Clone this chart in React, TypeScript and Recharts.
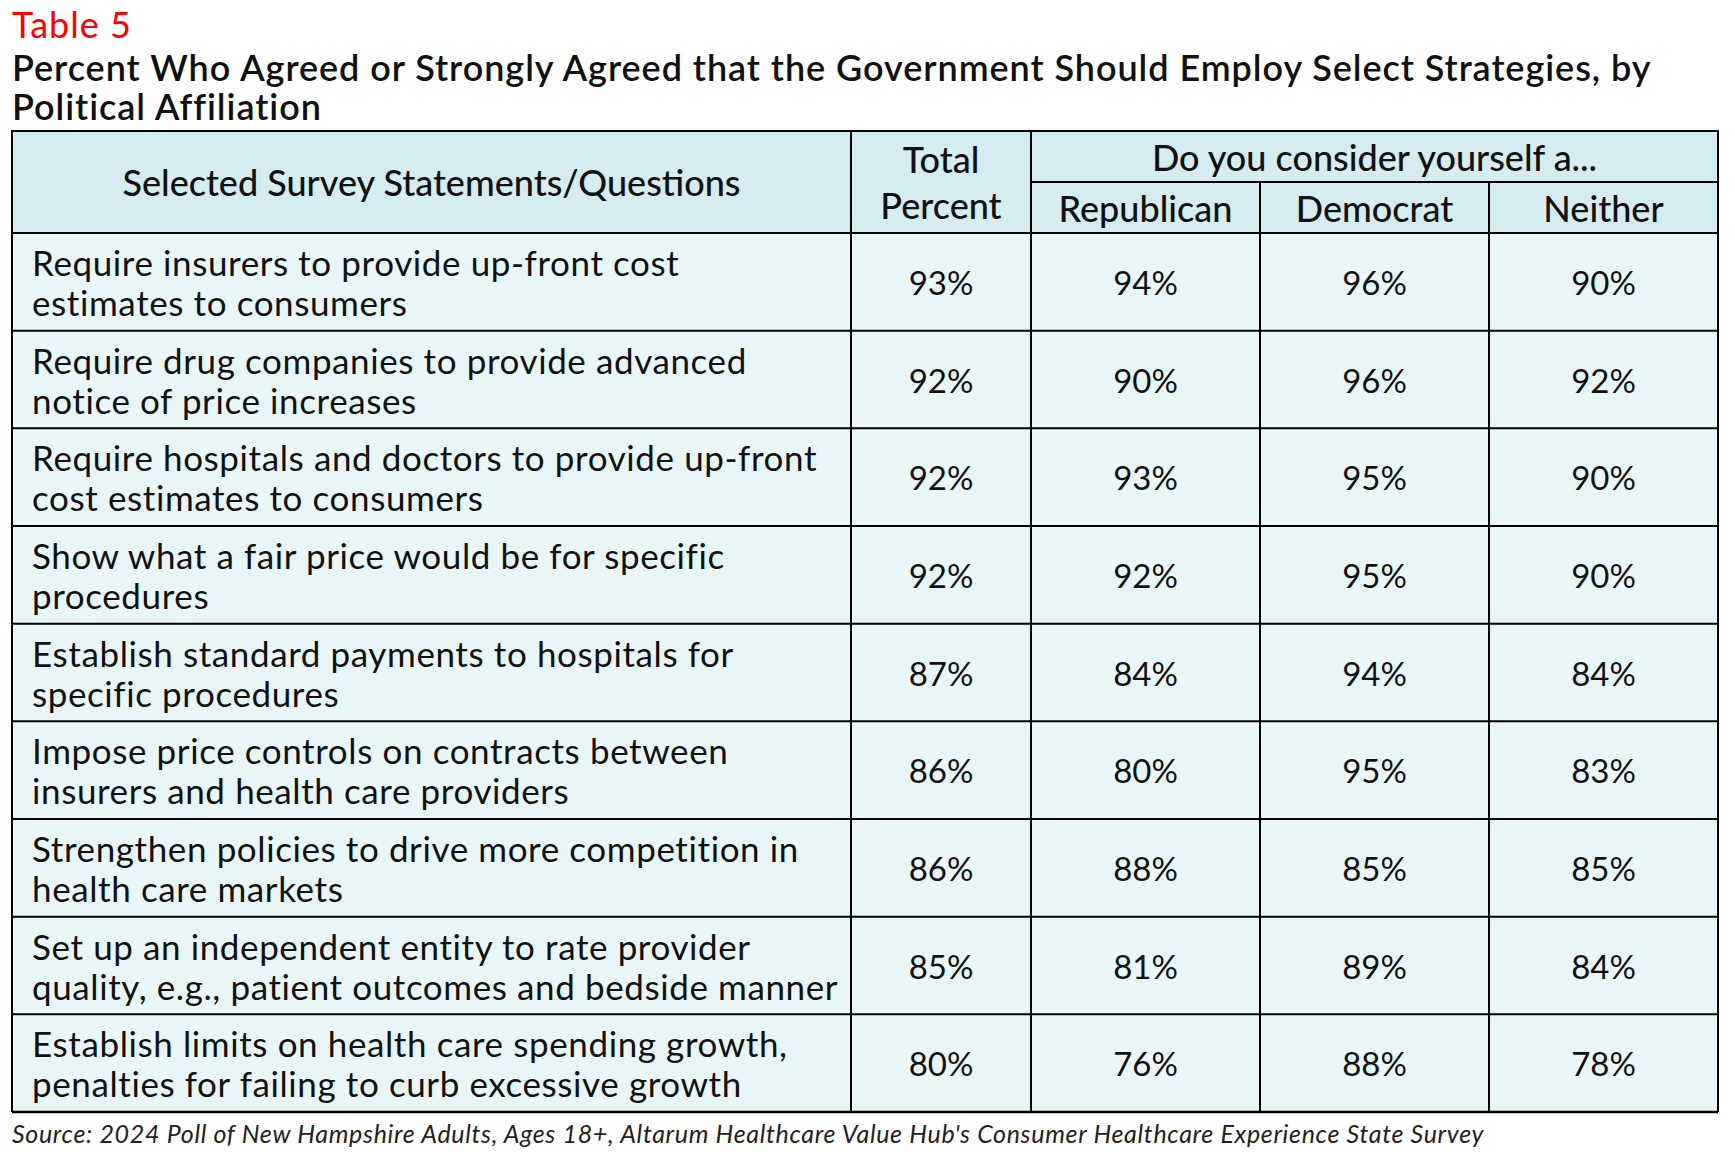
import React from 'react';
import { ComposedChart, XAxis, YAxis, Scatter, ReferenceLine, CartesianGrid } from 'recharts';

// ---------- data ----------
const statementLines: string[][] = [
  ['Require insurers to provide up-front cost', 'estimates to consumers'],
  ['Require drug companies to provide advanced', 'notice of price increases'],
  ['Require hospitals and doctors to provide up-front', 'cost estimates to consumers'],
  ['Show what a fair price would be for specific', 'procedures'],
  ['Establish standard payments to hospitals for', 'specific procedures'],
  ['Impose price controls on contracts between', 'insurers and health care providers'],
  ['Strengthen policies to drive more competition in', 'health care markets'],
  ['Set up an independent entity to rate provider', 'quality, e.g., patient outcomes and bedside manner'],
  ['Establish limits on health care spending growth,', 'penalties for failing to curb excessive growth'],
];
const statements = statementLines.map((l) => l.join(' '));

const totalPct = [93, 92, 92, 92, 87, 86, 86, 85, 80];
const republicanPct = [94, 90, 93, 92, 84, 80, 88, 81, 76];
const democratPct = [96, 96, 95, 95, 94, 95, 85, 89, 88];
const neitherPct = [90, 92, 90, 90, 84, 83, 85, 84, 78];

const columnLabels = ['Selected Survey Statements/Questions', 'Total Percent', 'Republican', 'Democrat', 'Neither'];
const groupLabel = 'Do you consider yourself a...';
const tableLabel = 'Table 5';
const titleLines = [
  'Percent Who Agreed or Strongly Agreed that the Government Should Employ Select Strategies, by',
  'Political Affiliation',
];
const sourceText =
  "Source: 2024 Poll of New Hampshire Adults, Ages 18+, Altarum Healthcare Value Hub's Consumer Healthcare Experience State Survey";

// ---------- layout ----------
const W = 1735;
const H = 1152;
const TABLE_LEFT = 12;
const TABLE_TOP = 131;
const HEADER_H = 102;
const HEADER_SPLIT = 51;
const TABLE_BOTTOM = 1112;
const PLOT_W = 1706;
const TEXT_INSET = 20;
const COL_EDGES = [0, 839, 1019, 1248, 1477, 1706];
const COL_CENTERS = COL_EDGES.slice(0, -1).map((e, i) => (e + COL_EDGES[i + 1]) / 2);

const FONT = 'Lato, "Noto Sans", sans-serif';
const INK = '#111111';
const HEADER_BG = '#d5edf1';
const BODY_BG = '#e9f6f8';
const BORDER = '#000000';
const FS = 33;
const SFS = 35;
const HFS = 36;

const valueSeries = [totalPct, republicanPct, democratPct, neitherPct];
const rows = statements.map((s) => ({ statement: s }));
const statementData = statements.map((s, i) => ({ statement: s, col: TEXT_INSET, lines: statementLines[i] }));
const seriesData = valueSeries.map((vals, k) =>
  statements.map((s, i) => ({ statement: s, col: COL_CENTERS[k + 1], value: vals[i] }))
);

const HeaderTick = (props: any) => {
  const { x, index } = props;
  const left = x - (COL_CENTERS[index] - COL_EDGES[index]);
  const right = x + (COL_EDGES[index + 1] - COL_CENTERS[index]);
  const top = TABLE_TOP;
  const bottom = TABLE_TOP + HEADER_H;
  const mid = TABLE_TOP + HEADER_SPLIT;
  const txt = { fontFamily: FONT, fontSize: HFS, fontWeight: 500, fill: INK, stroke: 'none' } as any;
  if (index === 0) {
    return (
      <g>
        <rect x={left} y={top} width={right - left} height={bottom - top} fill={HEADER_BG} stroke={BORDER} strokeWidth={2} />
        <text x={x} y={(top + bottom) / 2} textAnchor="middle" dominantBaseline="central" {...txt}>
          {columnLabels[0]}
        </text>
      </g>
    );
  }
  if (index === 1) {
    const parts = columnLabels[1].split(' ');
    return (
      <g>
        <rect x={left} y={top} width={right - left} height={bottom - top} fill={HEADER_BG} stroke={BORDER} strokeWidth={2} />
        {parts.map((p, k) => (
          <text key={k} x={x} y={(top + bottom) / 2 + (k - 0.5) * 46} textAnchor="middle" dominantBaseline="central" {...txt}>
            {p}
          </text>
        ))}
      </g>
    );
  }
  const groupLeft = x - (COL_CENTERS[index] - COL_EDGES[2]);
  const groupRight = groupLeft + (COL_EDGES[5] - COL_EDGES[2]);
  return (
    <g>
      {index === 2 && (
        <g>
          <rect x={groupLeft} y={top} width={groupRight - groupLeft} height={mid - top} fill={HEADER_BG} stroke={BORDER} strokeWidth={2} />
          <text x={(groupLeft + groupRight) / 2} y={(top + mid) / 2} textAnchor="middle" dominantBaseline="central" {...txt}>
            {groupLabel}
          </text>
        </g>
      )}
      <rect x={left} y={mid} width={right - left} height={bottom - mid} fill={HEADER_BG} stroke={BORDER} strokeWidth={2} />
      <text x={x} y={(mid + bottom) / 2} textAnchor="middle" dominantBaseline="central" {...txt}>
        {columnLabels[index]}
      </text>
    </g>
  );
};

const StatementShape = (props: any) => {
  const { cx, cy, payload } = props;
  const lines: string[] = payload.lines || [payload.statement];
  return (
    <g>
      {lines.map((l, k) => (
        <text
          key={k}
          x={cx}
          y={cy + (k - 0.5) * 40}
          textAnchor="start"
          dominantBaseline="central"
          fontFamily={FONT}
          fontSize={SFS}
          letterSpacing={0.6}
          fill={INK}
          stroke="none"
        >
          {l}
        </text>
      ))}
    </g>
  );
};

const ValueShape = (props: any) => {
  const { cx, cy, payload } = props;
  return (
    <text x={cx} y={cy} textAnchor="middle" dominantBaseline="central" fontFamily={FONT} fontSize={FS} fill={INK} stroke="none">
      {payload.value}%
    </text>
  );
};

const titleStyle: React.CSSProperties = {
  position: 'absolute',
  left: 12,
  lineHeight: '36px',
  fontSize: 36,
  fontWeight: 600,
  letterSpacing: 0.95,
  color: INK,
  whiteSpace: 'nowrap',
};

export default function App() {
  return (
    <div style={{ position: 'absolute', left: 0, top: 0, width: W, height: H, background: '#ffffff', fontFamily: FONT }}>
      <div style={{ position: 'absolute', left: 12, top: 4, lineHeight: '40px', fontSize: 36, letterSpacing: 1, color: '#fe0000', whiteSpace: 'nowrap' }}>
        {tableLabel}
      </div>
      <div style={{ ...titleStyle, top: 49 }}>{titleLines[0]}</div>
      <div style={{ ...titleStyle, top: 88 }}>{titleLines[1]}</div>
      <div style={{ position: 'absolute', left: 12, top: 1118, lineHeight: '30px', fontSize: 25, letterSpacing: 0.67, fontStyle: 'italic', color: '#222', whiteSpace: 'nowrap' }}>
        {sourceText}
      </div>
      <div style={{ position: 'absolute', left: 0, top: 0 }}>
        <ComposedChart
          width={W}
          height={H}
          layout="vertical"
          data={rows}
          margin={{ top: TABLE_TOP, right: W - TABLE_LEFT - PLOT_W, bottom: H - TABLE_BOTTOM, left: TABLE_LEFT - 1 }}
        >
          <CartesianGrid fill={BODY_BG} fillOpacity={1} horizontal={false} vertical={false} stroke="none" />
          <XAxis
            type="number"
            dataKey="col"
            domain={[0, PLOT_W]}
            allowDataOverflow
            orientation="top"
            height={HEADER_H}
            ticks={COL_CENTERS}
            interval={0}
            axisLine={false}
            tickLine={false}
            tick={<HeaderTick />}
          />
          <YAxis
            type="category"
            dataKey="statement"
            scale="band"
            width={1}
            axisLine={false}
            tickLine={false}
            tick={false}
            allowDuplicatedCategory={false}
          />
          {statements.map((s, i) => (
            <ReferenceLine key={'h' + i} y={s} position="start" stroke={BORDER} strokeWidth={2} />
          ))}
          <ReferenceLine y={statements[statements.length - 1]} position="end" stroke={BORDER} strokeWidth={2.5} />
          {COL_EDGES.map((e, i) => (
            <ReferenceLine key={'v' + i} x={e} stroke={BORDER} strokeWidth={2} />
          ))}
          <Scatter data={statementData} dataKey="col" isAnimationActive={false} shape={<StatementShape />} />
          {seriesData.map((d, k) => (
            <Scatter key={k} data={d} dataKey="value" isAnimationActive={false} shape={<ValueShape />} />
          ))}
        </ComposedChart>
      </div>
    </div>
  );
}
